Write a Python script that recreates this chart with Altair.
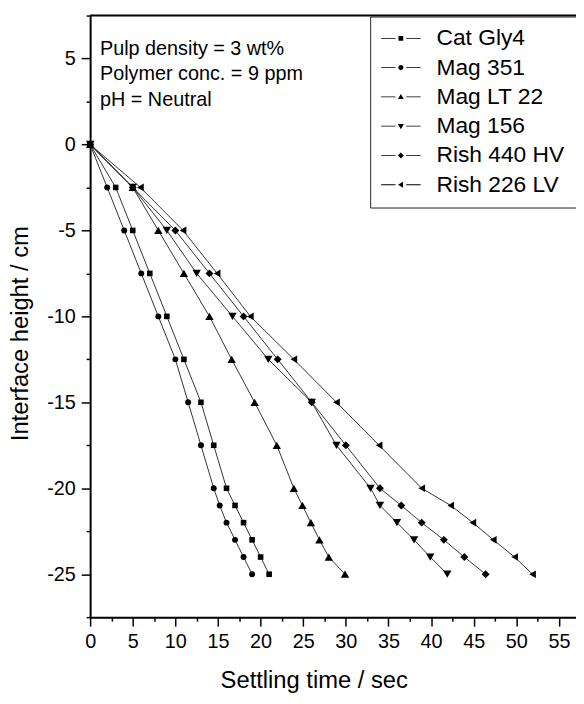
import altair as alt
import pandas as pd

FONT = "Liberation Sans"

series = ["Cat Gly4", "Mag 351", "Mag LT 22", "Mag 156", "Rish 440 HV", "Rish 226 LV"]
heights = [0, -2.5, -5, -7.5, -10, -12.5, -15, -17.5, -20, -21, -22, -23, -24, -25]
cat_gly4 = [0, 3, 5, 7, 9, 11, 13, 14.5, 16, 17, 18, 19, 20, 21]
mag_351 = [0, 2, 4, 6, 8, 10, 11.5, 13, 14.5, 15.2, 16, 17, 18, 19]
mag_lt22 = [0, 5, 8, 11, 14, 16.6, 19.3, 21.9, 23.9, 24.9, 25.9, 26.9, 28, 29.9]
mag_156 = [0, 5, 9, 12.5, 16.7, 20.9, 26, 28.9, 32.9, 34, 36, 38, 39.9, 41.9]
rish_440 = [0, 5, 10, 14, 18, 22, 26, 30, 34, 36.5, 38.9, 41.5, 43.9, 46.4]
rish_226 = [0, 5.9, 10.9, 14.9, 18.8, 23.9, 28.9, 33.9, 38.9, 42.3, 44.9, 47.3, 49.8, 51.9]
x_ticks = [i * 2.5 for i in range(23)]
y_ticks = [-27.5 + 2.5 * i for i in range(15)]
notes = ["Pulp density = 3 wt%", "Polymer conc. = 9 ppm", "pH = Neutral"]

rows = []
for name, times in zip(series, [cat_gly4, mag_351, mag_lt22, mag_156, rish_440, rish_226]):
    for i, (t, h) in enumerate(zip(times, heights)):
        rows.append({"series": name, "time": t, "height": h, "idx": i})
df = pd.DataFrame(rows)

W, H = 491, 608
shapes = ["square", "circle", "triangle-up", "triangle-down", "diamond", "triangle-left"]
sizes = [32, 36, 72, 72, 64, 60]
# legend glyph: line - marker - line (lines drawn as thin filled bars)
seg = "M-1,-0.02H-0.27V0.02H-1ZM0.27,-0.02H1V0.02H0.27Z"
legend_paths = [
    seg + "M-0.12,-0.12H0.12V0.12H-0.12Z",
    seg + "M-0.13,0A0.13,0.13 0 1,0 0.13,0A0.13,0.13 0 1,0 -0.13,0Z",
    seg + "M-0.15,0.11L0.15,0.11L0,-0.15Z",
    seg + "M-0.15,-0.11L0.15,-0.11L0,0.15Z",
    seg + "M-0.15,0L0,-0.15L0.15,0L0,0.15Z",
    seg + "M0.11,-0.15L0.11,0.15L-0.14,0Z",
]

xs = alt.Scale(domain=[0, 57], nice=False, zero=False)
ys = alt.Scale(domain=[-27.5, 7.5], nice=False, zero=False)
tick_size = {"condition": {"test": "datum.value % 5 !== 0", "value": 4}, "value": 9}
label_expr = "datum.value % 5 === 0 ? '' + datum.value : ''"

x_enc = alt.X("time:Q", scale=xs, axis=alt.Axis(
    title="Settling time / sec", values=x_ticks, labelExpr=label_expr,
    tickSize=tick_size, labelPadding=6, titleX=226, titleY=64,
    titleAlign="center", titleBaseline="middle",
    labelFlush=False, labelOverlap=False, grid=False))
y_enc = alt.Y("height:Q", scale=ys, axis=alt.Axis(
    title="Interface height / cm", values=y_ticks, labelExpr=label_expr,
    tickSize=tick_size, labelPadding=6, titleX=-70, titleY=321,
    titleAlign="center", titleBaseline="middle",
    labelOverlap=False, grid=False))

base = alt.Chart(df)
lines = base.mark_line(color="#333", strokeWidth=1).encode(
    x=x_enc, y=y_enc, detail="series:N", order="idx:Q")
points = base.mark_point(filled=True, color="black", opacity=1).encode(
    x=x_enc, y=y_enc,
    shape=alt.Shape("series:N", scale=alt.Scale(domain=series, range=shapes), legend=None),
    size=alt.Size("series:N", scale=alt.Scale(type="ordinal", domain=series, range=sizes), legend=None))
legend_layer = base.transform_filter("datum.idx == 0").mark_point(
    filled=True, color="black", opacity=0).encode(
    x=x_enc, y=y_enc,
    shape=alt.Shape("series:N", scale=alt.Scale(domain=series, range=legend_paths),
                    legend=alt.Legend(
                        title=None, orient="none", legendX=283, legendY=1,
                        padding=11, strokeColor="#222", fillColor="white",
                        labelFont=FONT, labelFontSize=23, labelColor="black",
                        labelOffset=16, symbolSize=1600, symbolStrokeWidth=0,
                        symbolFillColor="black", symbolOpacity=1,
                        clipHeight=22, rowPadding=6.6)))
top_rule = alt.Chart(pd.DataFrame({"a": [0]})).mark_rule(color="black", strokeWidth=2).encode(
    x=alt.value(0), x2=alt.value(W), y=alt.value(0))
note_layers = [
    alt.Chart(pd.DataFrame({"t": [txt]})).mark_text(
        align="left", baseline="middle", font=FONT, fontSize=20, color="black").encode(
        x=alt.value(10), y=alt.value(34 + 25.5 * i), text="t:N")
    for i, txt in enumerate(notes)
]

chart = alt.layer(lines, points, legend_layer, top_rule, *note_layers).resolve_scale(
    shape="independent").properties(
    width=W, height=H, autosize=alt.AutoSizeParams(type="none"),
    padding={"left": 83, "top": 4, "right": 0, "bottom": 76}
).configure_view(stroke=None).configure_axis(
    domainColor="black", domainWidth=2, tickColor="black", tickWidth=1.5,
    labelFont=FONT, labelFontSize=20, labelColor="black",
    titleFont=FONT, titleFontSize=24, titleFontWeight="normal", titleColor="black")

chart.save("out.html", embed_options={"renderer": "svg", "actions": False})
